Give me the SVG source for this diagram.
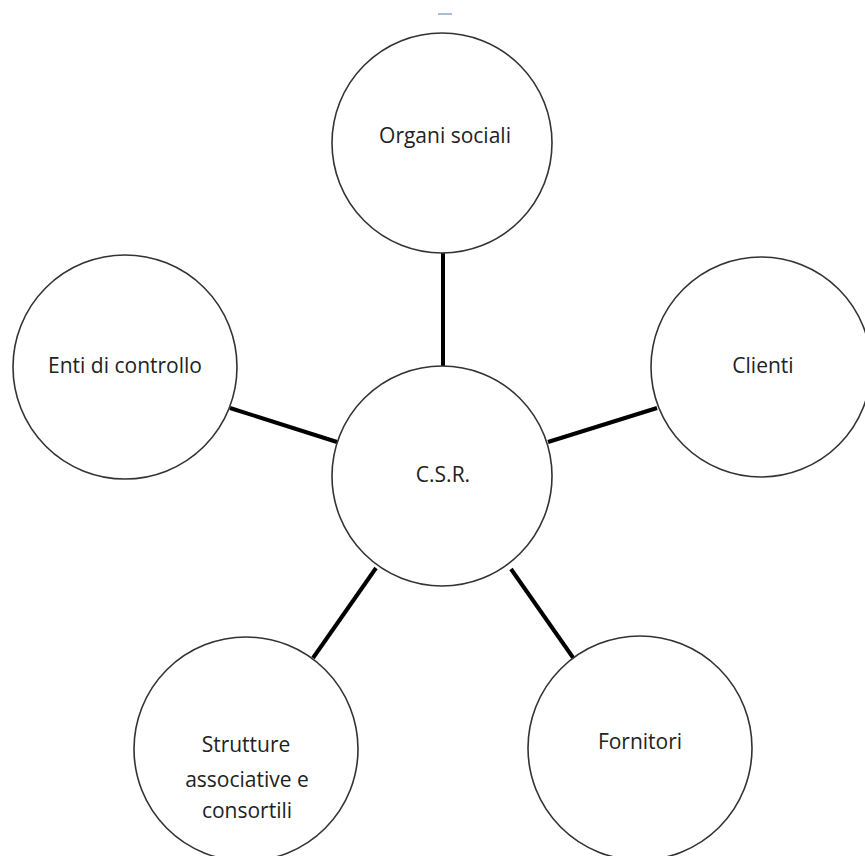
<svg xmlns="http://www.w3.org/2000/svg" width="865" height="856" viewBox="0 0 865 856">
<style>
.node circle{fill:#fff;stroke:#333;stroke-width:1.6}
.node text{font-family:"Open Sans","Liberation Sans",sans-serif;font-size:21px;fill:#222;text-anchor:middle}
#connectors line{stroke:#000;stroke-width:4;stroke-linecap:butt}
</style>
<rect width="865" height="856" fill="#fff"/>
<line x1="438" y1="14" x2="452" y2="14" stroke="#8ea4cc" stroke-width="1.5"/>
<g id="connectors">
<line x1="443" y1="253" x2="443" y2="366"/>
<line x1="230" y1="408" x2="337" y2="442"/>
<line x1="548" y1="442" x2="657" y2="408"/>
<line x1="376" y1="568" x2="313" y2="658"/>
<line x1="511" y1="569" x2="574" y2="659"/>
</g>
<g id="n-csr" class="node"><circle cx="442" cy="476" r="110"/><text x="443" y="482">C.S.R.</text></g>
<g id="n-organi" class="node"><circle cx="442" cy="143" r="110"/><text x="445" y="143">Organi sociali</text></g>
<g id="n-enti" class="node"><circle cx="125" cy="367" r="112"/><text x="125" y="373">Enti di controllo</text></g>
<g id="n-clienti" class="node"><circle cx="761" cy="367" r="110"/><text x="763" y="373">Clienti</text></g>
<g id="n-strutture" class="node"><circle cx="246" cy="749" r="112"/><text x="246" y="752">Strutture</text><text x="247" y="787">associative e</text><text x="247" y="818">consortili</text></g>
<g id="n-fornitori" class="node"><circle cx="640" cy="748" r="112"/><text x="640" y="749">Fornitori</text></g>
</svg>
